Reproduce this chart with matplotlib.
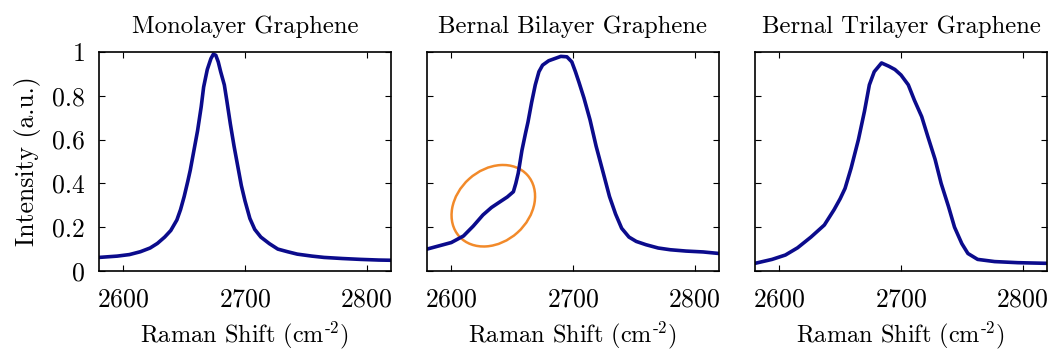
import matplotlib
matplotlib.use("Agg")
import matplotlib.pyplot as plt
import matplotlib.transforms as mtransforms
from matplotlib.patches import Ellipse

plt.rcParams['font.family'] = 'serif'
plt.rcParams['font.serif'] = ['cmr10']
plt.rcParams['mathtext.fontset'] = 'cm'
plt.rcParams['axes.formatter.use_mathtext'] = True

# Raman 2D band
mono_shift = [2580, 2595, 2605, 2614, 2622, 2628, 2634, 2639, 2644, 2647, 2650, 2653,
              2655, 2658, 2661, 2664, 2666, 2669, 2672, 2674, 2676, 2678, 2680, 2683,
              2685, 2688, 2691, 2694, 2697, 2700, 2704, 2708, 2713, 2720, 2727, 2735,
              2743, 2755, 2765, 2780, 2795, 2810, 2820]
mono_int = [0.062, 0.068, 0.075, 0.088, 0.105, 0.126, 0.155, 0.185, 0.233, 0.28, 0.34, 0.41,
            0.46, 0.55, 0.64, 0.75, 0.84, 0.92, 0.97, 0.99, 0.985, 0.955, 0.91, 0.85,
            0.78, 0.67, 0.57, 0.48, 0.39, 0.32, 0.24, 0.19, 0.155, 0.125, 0.10, 0.088,
            0.077, 0.068, 0.062, 0.057, 0.053, 0.050, 0.049]

bi_shift = [2580, 2590, 2600, 2610, 2618, 2626, 2633, 2640, 2646, 2651, 2653, 2655,
            2658, 2661, 2663, 2666, 2669, 2672, 2675, 2680, 2685, 2690, 2695, 2699,
            2702, 2705, 2709, 2714, 2719, 2725, 2730, 2735, 2740, 2746, 2752, 2760,
            2770, 2780, 2793, 2807, 2820]
bi_int = [0.100, 0.115, 0.130, 0.160, 0.205, 0.256, 0.29, 0.316, 0.338, 0.362, 0.40, 0.447,
          0.55, 0.63, 0.68, 0.77, 0.85, 0.91, 0.94, 0.96, 0.97, 0.98, 0.978, 0.955,
          0.91, 0.86, 0.79, 0.69, 0.57, 0.445, 0.34, 0.26, 0.195, 0.155, 0.135, 0.12,
          0.105, 0.097, 0.091, 0.087, 0.080]

tri_shift = [2580, 2594, 2605, 2615, 2626, 2637, 2645, 2650, 2654, 2659, 2665, 2670,
             2674, 2678, 2684, 2690, 2695, 2700, 2706, 2711, 2717, 2722, 2728, 2733,
             2739, 2744, 2750, 2755, 2763, 2777, 2796, 2820]
tri_int = [0.035, 0.053, 0.073, 0.106, 0.155, 0.21, 0.28, 0.33, 0.377, 0.47, 0.60, 0.73,
           0.85, 0.91, 0.95, 0.935, 0.92, 0.895, 0.85, 0.78, 0.705, 0.615, 0.51, 0.40,
           0.295, 0.20, 0.125, 0.08, 0.053, 0.043, 0.038, 0.035]

titles = ["Monolayer Graphene", "Bernal Bilayer Graphene", "Bernal Trilayer Graphene"]
x_ticks = [2600, 2700, 2800]
y_ticks = [0, 0.2, 0.4, 0.6, 0.8, 1]
y_tick_labels = ["0", "0.2", "0.4", "0.6", "0.8", "1"]

# shoulder highlighted in the bilayer panel
shoulder_center = (2634.5, 0.298)

line_color = '#0b0b8c'
W, H = 1049, 353
fig = plt.figure(figsize=(W / 100, H / 100), dpi=100)

lefts = [99, 427, 755]
series = [(mono_shift, mono_int), (bi_shift, bi_int), (tri_shift, tri_int)]
axes = []
for i, (x, y) in enumerate(series):
    ax = fig.add_axes([lefts[i] / W, 82 / H, 292 / W, 219 / H])
    ax.plot(x, y, color=line_color, lw=2.6)
    ax.set_xlim(2580, 2820)
    ax.set_ylim(0, 1)
    ax.set_xticks(x_ticks)
    ax.set_yticks(y_ticks)
    if i == 0:
        ax.set_yticklabels(y_tick_labels)
        ax.set_ylabel("Intensity (a.u.)", fontsize=18.5, labelpad=8)
    else:
        ax.set_yticklabels([])
    ax.tick_params(direction='in', length=4, width=0.8, top=True, right=True,
                   labelsize=18.5, pad=10)
    ax.tick_params(axis='x', pad=12)
    ax.set_title(titles[i], fontsize=17.8, pad=14)
    ax.set_xlabel(r"Raman Shift (cm$^{\text{-}2}$)", fontsize=17.5, labelpad=6)
    for s in ax.spines.values():
        s.set_linewidth(1.2)
    axes.append(ax)

# ellipse sized in points, centred on a data point
ax = axes[1]
tr = mtransforms.Affine2D().scale(fig.dpi / 72) + \
    mtransforms.ScaledTranslation(shoulder_center[0], shoulder_center[1], ax.transData)
ell = Ellipse((0, 0), 66, 52, angle=42, fill=False, edgecolor='#f28a2a', lw=1.8,
              transform=tr, clip_on=False)
ax.add_patch(ell)

fig.savefig("out.png", dpi=100)
